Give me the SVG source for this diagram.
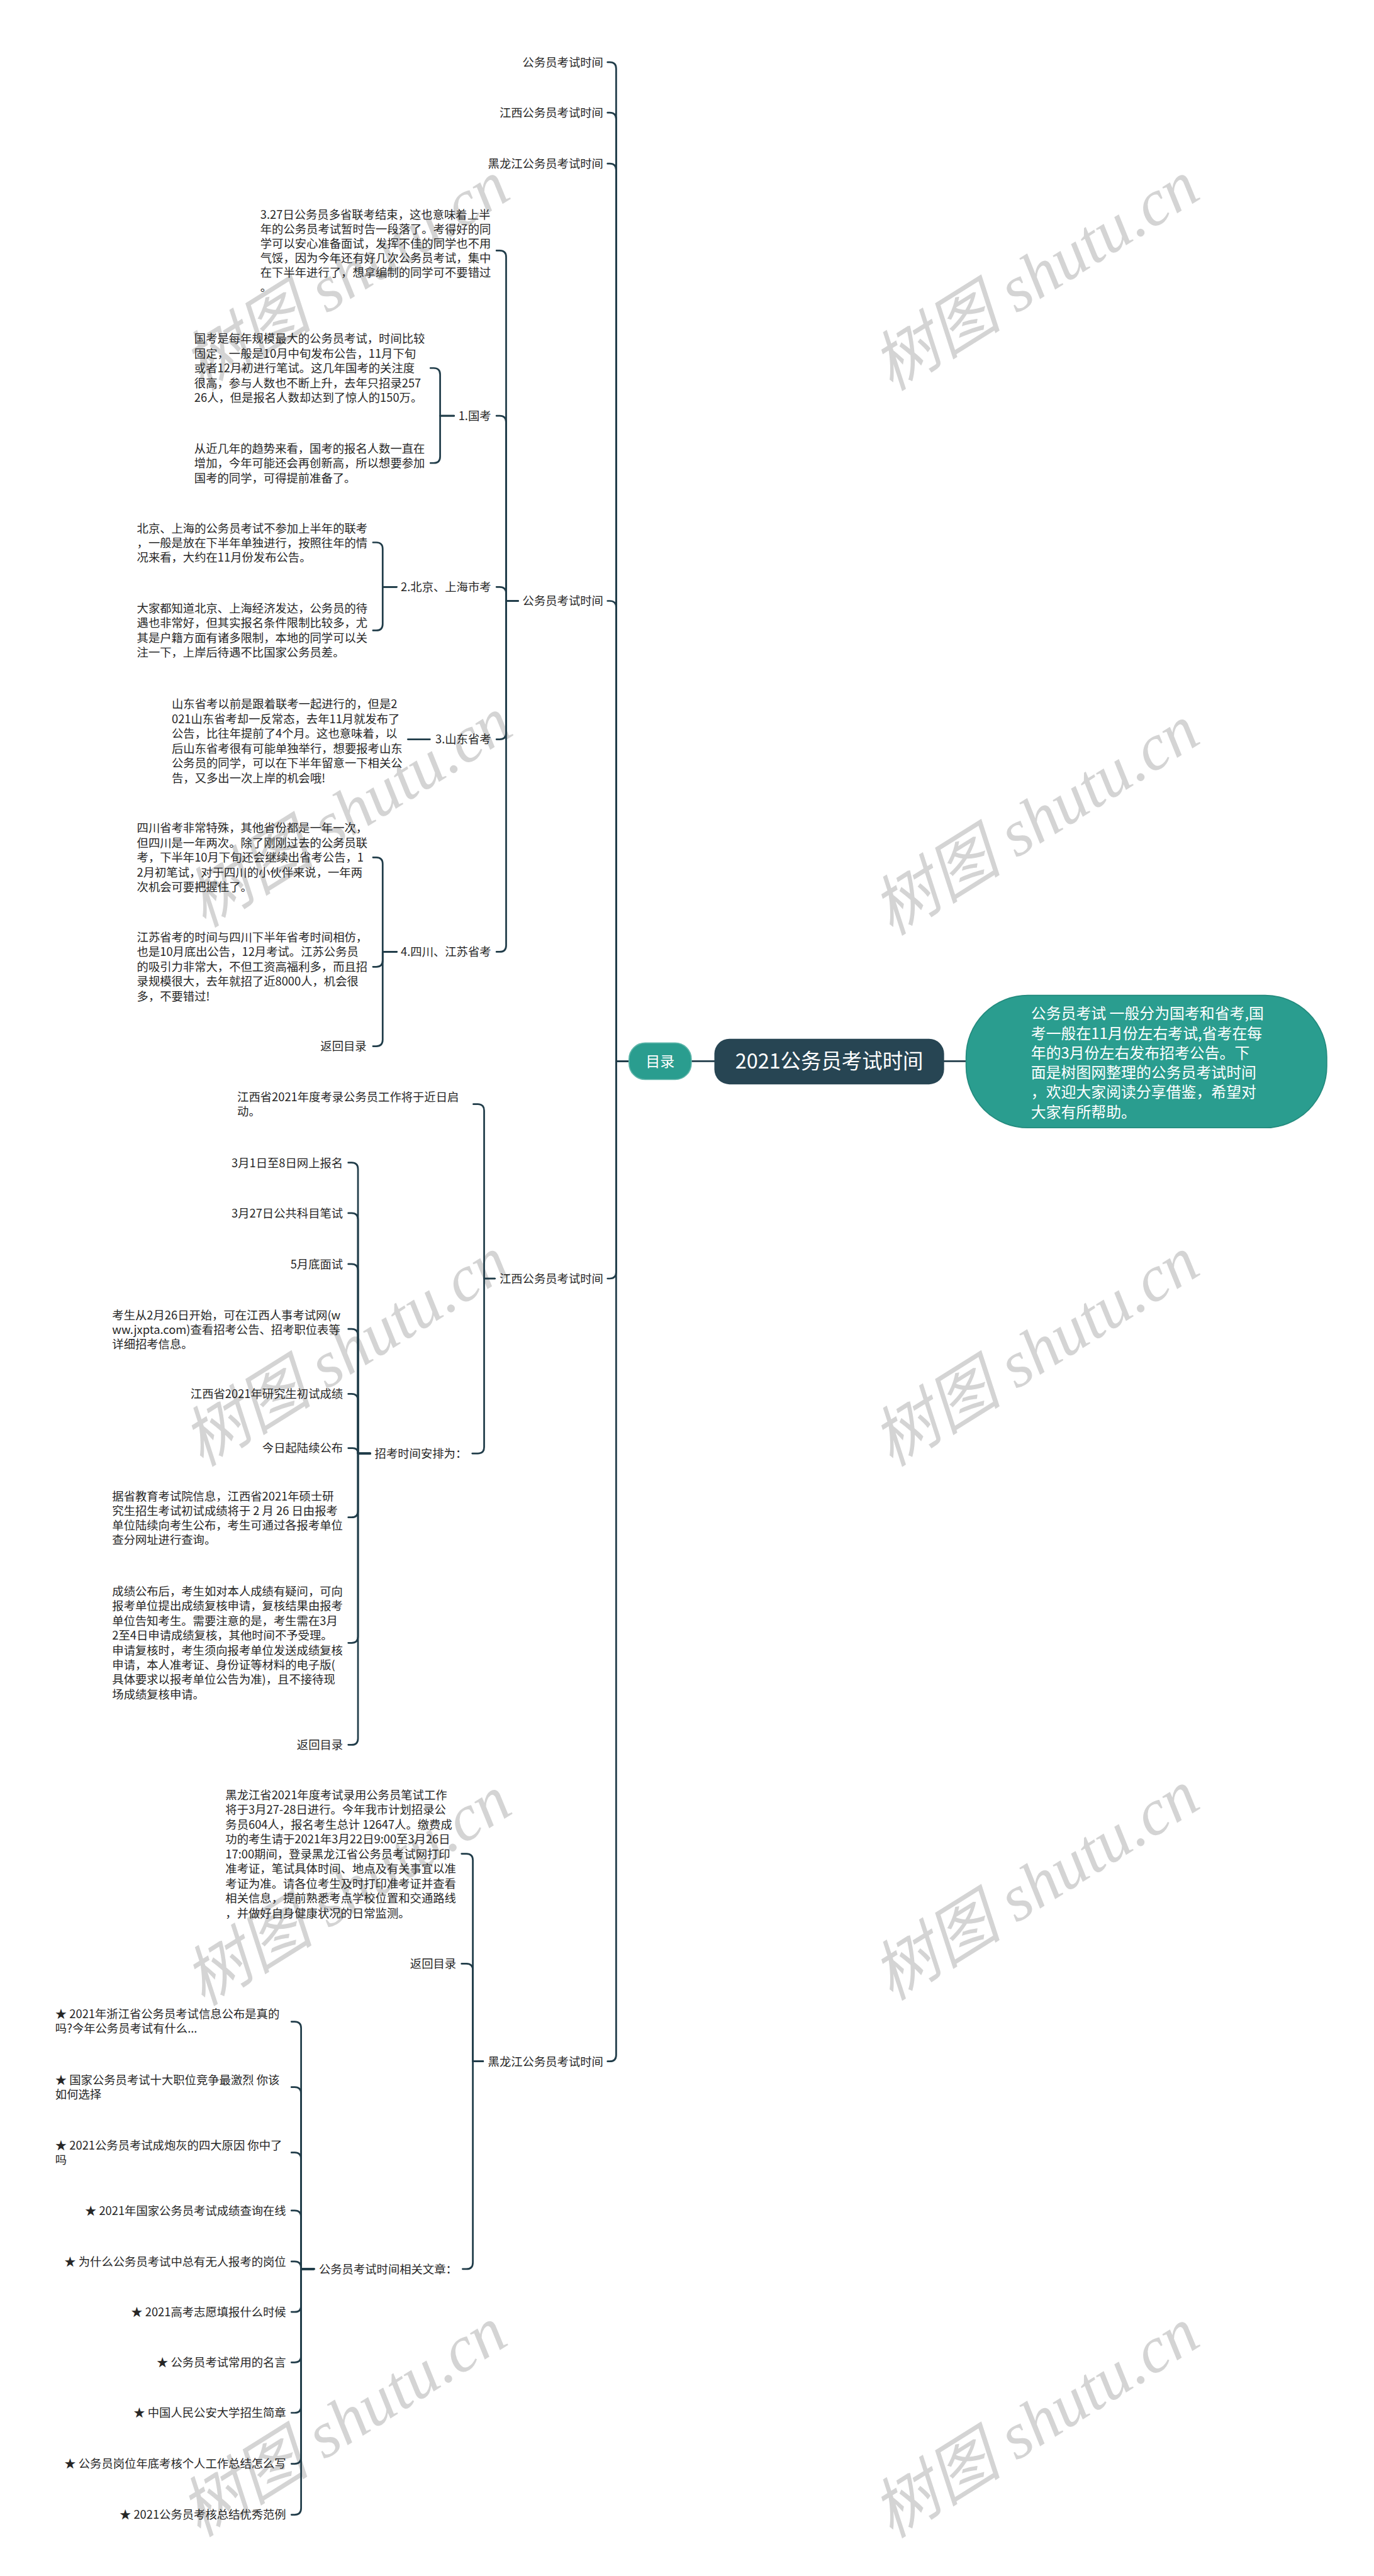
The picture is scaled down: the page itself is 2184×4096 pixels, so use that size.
<svg xmlns="http://www.w3.org/2000/svg" width="2184" height="4096" viewBox="0 0 2184 4096">
<style>
.t{font-family:"Noto Sans CJK SC","Noto Sans",sans-serif;font-size:21.5px;fill:#262626}
.e{text-anchor:end}
.c{fill:none;stroke:#203c49;stroke-width:3.2;stroke-linecap:round;stroke-linejoin:round}
.wm{font-family:"Liberation Serif","Noto Sans CJK SC",serif;font-style:italic;font-size:122px;fill:#d4d4d4;text-anchor:middle}
.wt{font-family:"Noto Sans CJK SC","Noto Sans",sans-serif;fill:#ffffff}
</style>
<rect x="0" y="0" width="2184" height="4096" fill="#ffffff"/>
<g transform="scale(0.853125)">
<g id="watermarks">
<text class="wm" transform="translate(645,515) rotate(-32)" x="0" y="40">树图 shutu.cn</text>
<text class="wm" transform="translate(1930,515) rotate(-32)" x="0" y="40">树图 shutu.cn</text>
<text class="wm" transform="translate(650,1515) rotate(-32)" x="0" y="40">树图 shutu.cn</text>
<text class="wm" transform="translate(1930,1530) rotate(-32)" x="0" y="40">树图 shutu.cn</text>
<text class="wm" transform="translate(645,2520) rotate(-32)" x="0" y="40">树图 shutu.cn</text>
<text class="wm" transform="translate(1930,2520) rotate(-32)" x="0" y="40">树图 shutu.cn</text>
<text class="wm" transform="translate(648,3525) rotate(-32)" x="0" y="40">树图 shutu.cn</text>
<text class="wm" transform="translate(1930,3515) rotate(-32)" x="0" y="40">树图 shutu.cn</text>
<text class="wm" transform="translate(640,4515) rotate(-32)" x="0" y="40">树图 shutu.cn</text>
<text class="wm" transform="translate(1930,4517) rotate(-32)" x="0" y="40">树图 shutu.cn</text>
</g>
<g id="connectors">
<path class="c" d="M1288,1978H1331"/>
<path class="c" d="M1759,1978H1800"/>
<path class="c" d="M1172,1978H1148V128Q1148,116 1136,116H1132"/>
<path class="c" d="M1172,1978H1148V222Q1148,210 1136,210H1132"/>
<path class="c" d="M1172,1978H1148V317Q1148,305 1136,305H1132"/>
<path class="c" d="M1172,1978H1148V1132Q1148,1120 1136,1120H1132"/>
<path class="c" d="M1172,1978H1148V2371Q1148,2383 1136,2383H1132"/>
<path class="c" d="M1172,1978H1148V3830Q1148,3842 1136,3842H1132"/>
<path class="c" d="M965,1120H943V479Q943,467 931,467H925"/>
<path class="c" d="M965,1120H943V787Q943,775 931,775H925"/>
<path class="c" d="M965,1120H943V1106Q943,1094 931,1094H925"/>
<path class="c" d="M965,1120H943V1366Q943,1378 931,1378H925"/>
<path class="c" d="M965,1120H943V1762Q943,1774 931,1774H925"/>
<path class="c" d="M846,775H820V698Q820,686 808,686H802"/>
<path class="c" d="M846,775H820V851Q820,863 808,863H802"/>
<path class="c" d="M739,1094H713V1023Q713,1011 701,1011H695"/>
<path class="c" d="M739,1094H713V1163Q713,1175 701,1175H695"/>
<path class="c" d="M801,1378H760"/>
<path class="c" d="M739,1774H713V1610Q713,1598 701,1598H695"/>
<path class="c" d="M739,1774H713V1790Q713,1802 701,1802H695"/>
<path class="c" d="M739,1774H713V1938Q713,1950 701,1950H695"/>
<path class="c" d="M922,2383H902V2070Q902,2058 890,2058H882"/>
<path class="c" d="M922,2383H902V2697Q902,2709 890,2709H880"/>
<path class="c" d="M690,2709H667V2179Q667,2167 655,2167H649"/>
<path class="c" d="M690,2709H667V2273Q667,2261 655,2261H649"/>
<path class="c" d="M690,2709H667V2368Q667,2356 655,2356H649"/>
<path class="c" d="M690,2709H667V2489Q667,2477 655,2477H649"/>
<path class="c" d="M690,2709H667V2610Q667,2598 655,2598H649"/>
<path class="c" d="M690,2709H667Q667,2699 657,2699H649"/>
<path class="c" d="M690,2709H667V2816Q667,2828 655,2828H649"/>
<path class="c" d="M690,2709H667V3050Q667,3062 655,3062H649"/>
<path class="c" d="M690,2709H667V3240Q667,3252 655,3252H649"/>
<path class="c" d="M900,3842H881V3467Q881,3455 869,3455H860"/>
<path class="c" d="M900,3842H881V3672Q881,3660 869,3660H860"/>
<path class="c" d="M900,3842H881V4217Q881,4229 869,4229H862"/>
<path class="c" d="M585,4229H561V3780Q561,3768 549,3768H543"/>
<path class="c" d="M585,4229H561V3902Q561,3890 549,3890H543"/>
<path class="c" d="M585,4229H561V4024Q561,4012 549,4012H543"/>
<path class="c" d="M585,4229H561V4132Q561,4120 549,4120H543"/>
<path class="c" d="M585,4229H561V4227Q561,4215 549,4215H543"/>
<path class="c" d="M585,4229H561V4297Q561,4309 549,4309H543"/>
<path class="c" d="M585,4229H561V4391Q561,4403 549,4403H543"/>
<path class="c" d="M585,4229H561V4485Q561,4497 549,4497H543"/>
<path class="c" d="M585,4229H561V4580Q561,4592 549,4592H543"/>
<path class="c" d="M585,4229H561V4675Q561,4687 549,4687H543"/>
</g>
<g id="root">
<rect x="1331" y="1936" width="428" height="85" rx="28" fill="#274553"/>
<text class="wt" x="1545" y="1992" font-size="38" text-anchor="middle">2021公务员考试时间</text>
</g>
<g id="toc">
<rect x="1172" y="1944" width="116" height="68" rx="30" fill="#2a9d8f" stroke="#5cb5a9" stroke-width="2"/>
<text class="wt" x="1230" y="1988" font-size="27" text-anchor="middle">目录</text>
</g>
<g id="desc">
<rect x="1800" y="1855" width="672" height="247" rx="115" fill="#2a9d8f" stroke="#238a7d" stroke-width="2"/>
<text class="wt" font-size="28"><tspan x="1921" y="1899">公务员考试 一般分为国考和省考,国</tspan><tspan x="1921" y="1936">考一般在11月份左右考试,省考在每</tspan><tspan x="1921" y="1973">年的3月份左右发布招考公告。下</tspan><tspan x="1921" y="2009">面是树图网整理的公务员考试时间</tspan><tspan x="1921" y="2046">，欢迎大家阅读分享借鉴，希望对</tspan><tspan x="1921" y="2083">大家有所帮助。</tspan></text>
</g>
<g id="a1"><text class="t e" x="1124" y="124">公务员考试时间</text></g>
<g id="a2"><text class="t e" x="1124" y="218">江西公务员考试时间</text></g>
<g id="a3"><text class="t e" x="1124" y="313">黑龙江公务员考试时间</text></g>
<g id="a4"><text class="t e" x="1124" y="1128">公务员考试时间</text></g>
<g id="b1"><text class="t"><tspan x="485" y="408">3.27日公务员多省联考结束，这也意味着上半</tspan><tspan x="485" y="435">年的公务员考试暂时告一段落了。考得好的同</tspan><tspan x="485" y="462">学可以安心准备面试，发挥不佳的同学也不用</tspan><tspan x="485" y="489">气馁，因为今年还有好几次公务员考试，集中</tspan><tspan x="485" y="516">在下半年进行了，想拿编制的同学可不要错过</tspan><tspan x="485" y="543">。</tspan></text></g>
<g id="g1"><text class="t e" x="915" y="783">1.国考</text></g>
<g id="b2"><text class="t"><tspan x="362" y="639">国考是每年规模最大的公务员考试，时间比较</tspan><tspan x="362" y="667">固定，一般是10月中旬发布公告，11月下旬</tspan><tspan x="362" y="694">或者12月初进行笔试。这几年国考的关注度</tspan><tspan x="362" y="722">很高，参与人数也不断上升，去年只招录257</tspan><tspan x="362" y="749">26人，但是报名人数却达到了惊人的150万。</tspan></text></g>
<g id="b3"><text class="t"><tspan x="362" y="844">从近几年的趋势来看，国考的报名人数一直在</tspan><tspan x="362" y="871">增加，今年可能还会再创新高，所以想要参加</tspan><tspan x="362" y="899">国考的同学，可得提前准备了。</tspan></text></g>
<g id="g2"><text class="t e" x="915" y="1102">2.北京、上海市考</text></g>
<g id="b4"><text class="t"><tspan x="255" y="993">北京、上海的公务员考试不参加上半年的联考</tspan><tspan x="255" y="1020">，一般是放在下半年单独进行，按照往年的情</tspan><tspan x="255" y="1047">况来看，大约在11月份发布公告。</tspan></text></g>
<g id="b5"><text class="t"><tspan x="255" y="1142">大家都知道北京、上海经济发达，公务员的待</tspan><tspan x="255" y="1169">遇也非常好，但其实报名条件限制比较多，尤</tspan><tspan x="255" y="1197">其是户籍方面有诸多限制，本地的同学可以关</tspan><tspan x="255" y="1224">注一下，上岸后待遇不比国家公务员差。</tspan></text></g>
<g id="g3"><text class="t e" x="915" y="1386">3.山东省考</text></g>
<g id="b6"><text class="t"><tspan x="320" y="1320">山东省考以前是跟着联考一起进行的，但是2</tspan><tspan x="320" y="1348">021山东省考却一反常态，去年11月就发布了</tspan><tspan x="320" y="1375">公告，比往年提前了4个月。这也意味着，以</tspan><tspan x="320" y="1403">后山东省考很有可能单独举行，想要报考山东</tspan><tspan x="320" y="1430">公务员的同学，可以在下半年留意一下相关公</tspan><tspan x="320" y="1458">告，又多出一次上岸的机会哦!</tspan></text></g>
<g id="g4"><text class="t e" x="915" y="1782">4.四川、江苏省考</text></g>
<g id="b7"><text class="t"><tspan x="255" y="1551">四川省考非常特殊，其他省份都是一年一次，</tspan><tspan x="255" y="1579">但四川是一年两次。除了刚刚过去的公务员联</tspan><tspan x="255" y="1606">考，下半年10月下旬还会继续出省考公告，1</tspan><tspan x="255" y="1634">2月初笔试，对于四川的小伙伴来说，一年两</tspan><tspan x="255" y="1661">次机会可要把握住了。</tspan></text></g>
<g id="b8"><text class="t"><tspan x="255" y="1755">江苏省考的时间与四川下半年省考时间相仿，</tspan><tspan x="255" y="1782">也是10月底出公告，12月考试。江苏公务员</tspan><tspan x="255" y="1810">的吸引力非常大，不但工资高福利多，而且招</tspan><tspan x="255" y="1837">录规模很大，去年就招了近8000人，机会很</tspan><tspan x="255" y="1865">多，不要错过!</tspan></text></g>
<g id="back1"><text class="t e" x="683" y="1958">返回目录</text></g>
<g id="a5"><text class="t e" x="1124" y="2391">江西公务员考试时间</text></g>
<g id="c1"><text class="t"><tspan x="442" y="2053">江西省2021年度考录公务员工作将于近日启</tspan><tspan x="442" y="2080">动。</tspan></text></g>
<g id="zk"><text class="t e" x="870" y="2717">招考时间安排为：</text></g>
<g id="z1"><text class="t e" x="639" y="2175">3月1日至8日网上报名</text></g>
<g id="z2"><text class="t e" x="639" y="2269">3月27日公共科目笔试</text></g>
<g id="z3"><text class="t e" x="639" y="2364">5月底面试</text></g>
<g id="c2"><text class="t"><tspan x="209" y="2459">考生从2月26日开始，可在江西人事考试网(w</tspan><tspan x="209" y="2486">ww.jxpta.com)查看招考公告、招考职位表等</tspan><tspan x="209" y="2513">详细招考信息。</tspan></text></g>
<g id="z4"><text class="t e" x="639" y="2606">江西省2021年研究生初试成绩</text></g>
<g id="z5"><text class="t e" x="639" y="2707">今日起陆续公布</text></g>
<g id="c3"><text class="t"><tspan x="209" y="2797">据省教育考试院信息，江西省2021年硕士研</tspan><tspan x="209" y="2824">究生招生考试初试成绩将于 2 月 26 日由报考</tspan><tspan x="209" y="2851">单位陆续向考生公布，考生可通过各报考单位</tspan><tspan x="209" y="2878">查分网址进行查询。</tspan></text></g>
<g id="c4"><text class="t"><tspan x="209" y="2974">成绩公布后，考生如对本人成绩有疑问，可向</tspan><tspan x="209" y="3001">报考单位提出成绩复核申请，复核结果由报考</tspan><tspan x="209" y="3029">单位告知考生。需要注意的是，考生需在3月</tspan><tspan x="209" y="3056">2至4日申请成绩复核，其他时间不予受理。</tspan><tspan x="209" y="3084">申请复核时，考生须向报考单位发送成绩复核</tspan><tspan x="209" y="3111">申请，本人准考证、身份证等材料的电子版(</tspan><tspan x="209" y="3138">具体要求以报考单位公告为准)，且不接待现</tspan><tspan x="209" y="3166">场成绩复核申请。</tspan></text></g>
<g id="back2"><text class="t e" x="639" y="3260">返回目录</text></g>
<g id="a6"><text class="t e" x="1124" y="3850">黑龙江公务员考试时间</text></g>
<g id="d1"><text class="t"><tspan x="420" y="3354">黑龙江省2021年度考试录用公务员笔试工作</tspan><tspan x="420" y="3381">将于3月27-28日进行。今年我市计划招录公</tspan><tspan x="420" y="3409">务员604人，报名考生总计 12647人。缴费成</tspan><tspan x="420" y="3436">功的考生请于2021年3月22日9:00至3月26日</tspan><tspan x="420" y="3464">17:00期间，登录黑龙江省公务员考试网打印</tspan><tspan x="420" y="3491">准考证，笔试具体时间、地点及有关事宜以准</tspan><tspan x="420" y="3519">考证为准。请各位考生及时打印准考证并查看</tspan><tspan x="420" y="3546">相关信息，提前熟悉考点学校位置和交通路线</tspan><tspan x="420" y="3574">，并做好自身健康状况的日常监测。</tspan></text></g>
<g id="back3"><text class="t e" x="850" y="3668">返回目录</text></g>
<g id="rel"><text class="t e" x="852" y="4237">公务员考试时间相关文章：</text></g>
<g id="e1"><text class="t"><tspan x="103" y="3762">★ 2021年浙江省公务员考试信息公布是真的</tspan><tspan x="103" y="3789">吗?今年公务员考试有什么...</tspan></text></g>
<g id="e2"><text class="t"><tspan x="103" y="3884">★ 国家公务员考试十大职位竞争最激烈 你该</tspan><tspan x="103" y="3911">如何选择</tspan></text></g>
<g id="e3"><text class="t"><tspan x="103" y="4007">★ 2021公务员考试成炮灰的四大原因 你中了</tspan><tspan x="103" y="4034">吗</tspan></text></g>
<g id="e4"><text class="t e" x="533" y="4128">★ 2021年国家公务员考试成绩查询在线</text></g>
<g id="e5"><text class="t e" x="533" y="4223">★ 为什么公务员考试中总有无人报考的岗位</text></g>
<g id="e6"><text class="t e" x="533" y="4317">★ 2021高考志愿填报什么时候</text></g>
<g id="e7"><text class="t e" x="533" y="4411">★ 公务员考试常用的名言</text></g>
<g id="e8"><text class="t e" x="533" y="4505">★ 中国人民公安大学招生简章</text></g>
<g id="e9"><text class="t e" x="533" y="4600">★ 公务员岗位年底考核个人工作总结怎么写</text></g>
<g id="e10"><text class="t e" x="533" y="4695">★ 2021公务员考核总结优秀范例</text></g>
</g>
</svg>
